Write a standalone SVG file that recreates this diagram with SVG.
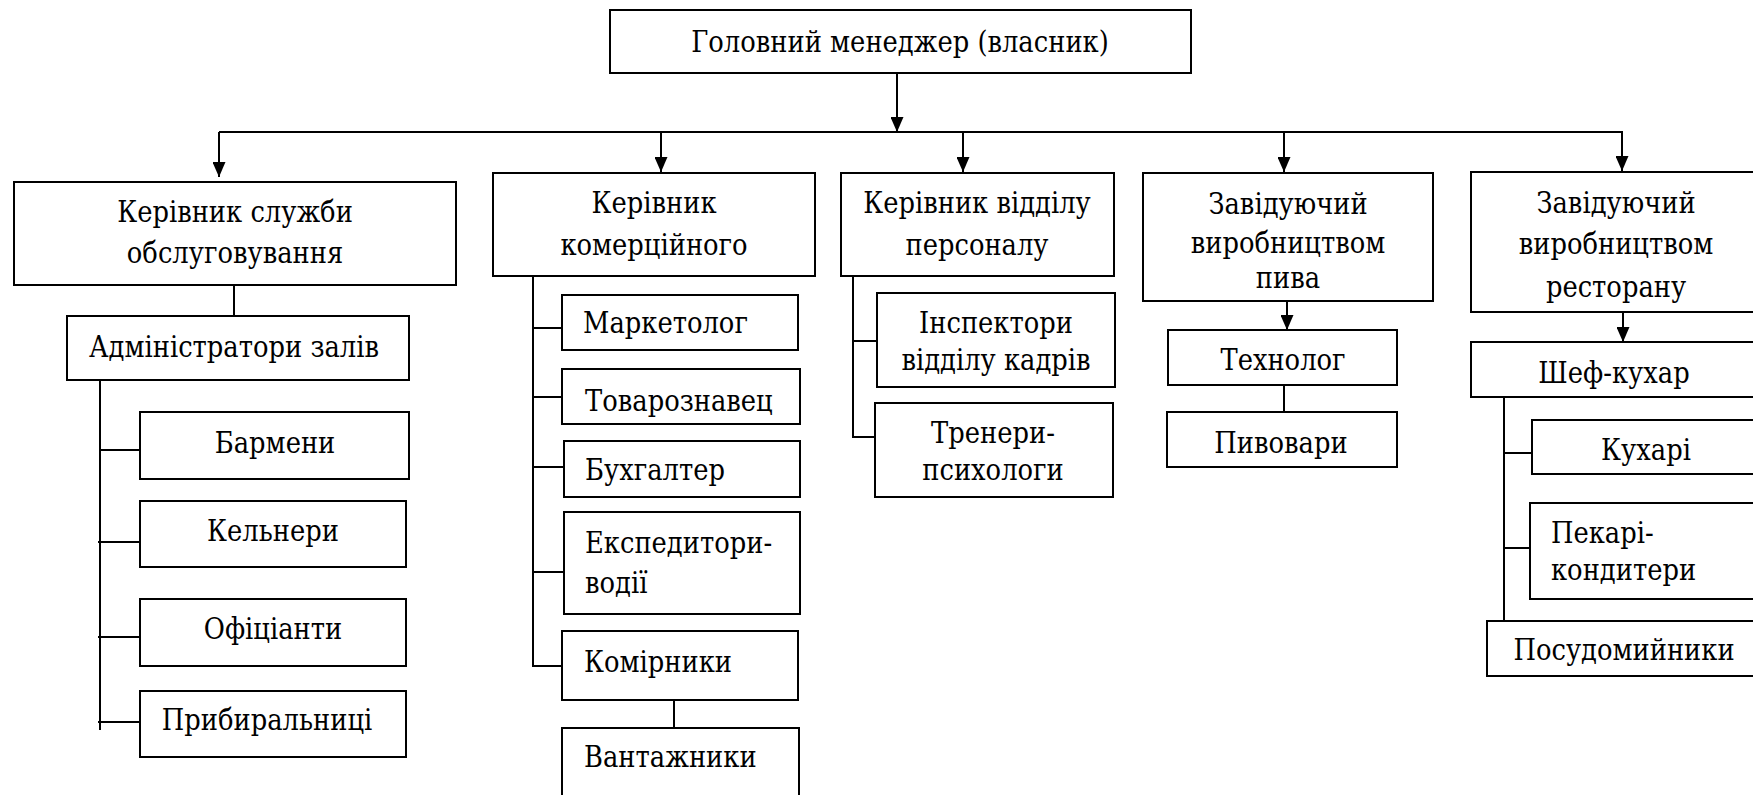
<svg xmlns="http://www.w3.org/2000/svg" width="1753" height="795" viewBox="0 0 1753 795">
<style>
  .box { fill: #ffffff; stroke: #000000; stroke-width: 2; }
  .ln { fill: none; stroke: #000000; stroke-width: 2; }
  .arr { fill: none; stroke: #000000; stroke-width: 2; marker-end: url(#ah); }
  text { font-family: "DejaVu Serif", "Liberation Serif", serif; font-size: 30px; fill: #000000; }
  .c { text-anchor: middle; }
  .l { text-anchor: start; }
</style>
<defs>
  <marker id="ah" markerUnits="userSpaceOnUse" markerWidth="15" markerHeight="13" refX="15" refY="6.5" orient="auto">
    <path d="M0,0 L15,6.5 L0,13 Z" fill="#000000"/>
  </marker>
</defs>
<rect width="1753" height="795" fill="#ffffff"/>

<g id="connectors">
  <line class="arr" x1="897" y1="73" x2="897" y2="132"/>
  <line class="ln" x1="219" y1="132" x2="1623" y2="132"/>
  <line class="arr" x1="219" y1="132" x2="219" y2="177"/>
  <line class="arr" x1="661" y1="132" x2="661" y2="172"/>
  <line class="arr" x1="963" y1="132" x2="963" y2="172"/>
  <line class="arr" x1="1284" y1="132" x2="1284" y2="172"/>
  <line class="arr" x1="1622" y1="132" x2="1622" y2="171"/>
  <line class="ln" x1="234" y1="285" x2="234" y2="316"/>
  <line class="ln" x1="100" y1="380" x2="100" y2="730"/>
  <line class="ln" x1="100" y1="450" x2="140" y2="450"/>
  <line class="ln" x1="98" y1="542" x2="140" y2="542"/>
  <line class="ln" x1="98" y1="637" x2="140" y2="637"/>
  <line class="ln" x1="98" y1="722" x2="140" y2="722"/>
  <line class="ln" x1="533" y1="276" x2="533" y2="667"/>
  <line class="ln" x1="533" y1="328" x2="562" y2="328"/>
  <line class="ln" x1="533" y1="397" x2="562" y2="397"/>
  <line class="ln" x1="533" y1="467" x2="564" y2="467"/>
  <line class="ln" x1="533" y1="572" x2="564" y2="572"/>
  <line class="ln" x1="533" y1="666" x2="562" y2="666"/>
  <line class="ln" x1="674" y1="700" x2="674" y2="728"/>
  <line class="ln" x1="853" y1="276" x2="853" y2="438"/>
  <line class="ln" x1="853" y1="341" x2="877" y2="341"/>
  <line class="ln" x1="853" y1="437" x2="875" y2="437"/>
  <line class="arr" x1="1287" y1="301" x2="1287" y2="330"/>
  <line class="ln" x1="1284" y1="385" x2="1284" y2="412"/>
  <line class="arr" x1="1623" y1="312" x2="1623" y2="342"/>
  <line class="ln" x1="1504" y1="397" x2="1504" y2="621"/>
  <line class="ln" x1="1504" y1="453" x2="1532" y2="453"/>
  <line class="ln" x1="1504" y1="548" x2="1530" y2="548"/>
</g>

<g id="n-top">
  <rect class="box" x="610" y="10" width="581" height="63"/>
  <text class="c" transform="translate(900 52) scale(0.86 1)">Головний менеджер (власник)</text>
</g>
<g id="n-service">
  <rect class="box" x="14" y="182" width="442" height="103"/>
  <text class="c" transform="translate(235 222) scale(0.86 1)">Керівник служби</text>
  <text class="c" transform="translate(235 263) scale(0.86 1)">обслуговування</text>
</g>
<g id="n-admin">
  <rect class="box" x="67" y="316" width="342" height="64"/>
  <text class="c" transform="translate(234 357) scale(0.86 1)">Адміністратори залів</text>
</g>
<g id="n-barmen">
  <rect class="box" x="140" y="412" width="269" height="67"/>
  <text class="c" transform="translate(275 453) scale(0.86 1)">Бармени</text>
</g>
<g id="n-kelnery">
  <rect class="box" x="140" y="501" width="266" height="66"/>
  <text class="c" transform="translate(273 541) scale(0.86 1)">Кельнери</text>
</g>
<g id="n-ofitsianty">
  <rect class="box" x="140" y="599" width="266" height="67"/>
  <text class="c" transform="translate(273 639) scale(0.86 1)">Офіціанти</text>
</g>
<g id="n-prybyralnytsi">
  <rect class="box" x="140" y="691" width="266" height="66"/>
  <text class="c" transform="translate(267 730) scale(0.86 1)">Прибиральниці</text>
</g>
<g id="n-commercial">
  <rect class="box" x="493" y="173" width="322" height="103"/>
  <text class="c" transform="translate(654 213) scale(0.86 1)">Керівник</text>
  <text class="c" transform="translate(654 255) scale(0.86 1)">комерційного</text>
</g>
<g id="n-marketolog">
  <rect class="box" x="562" y="295" width="236" height="55"/>
  <text class="l" transform="translate(583 333) scale(0.86 1)">Маркетолог</text>
</g>
<g id="n-tovaroznavets">
  <rect class="box" x="562" y="369" width="238" height="55"/>
  <text class="l" transform="translate(585 411) scale(0.86 1)">Товарознавец</text>
</g>
<g id="n-bukhhalter">
  <rect class="box" x="564" y="441" width="236" height="56"/>
  <text class="l" transform="translate(585 480) scale(0.86 1)">Бухгалтер</text>
</g>
<g id="n-ekspedytory">
  <rect class="box" x="564" y="512" width="236" height="102"/>
  <text class="l" transform="translate(585 553) scale(0.86 1)">Експедитори-</text>
  <text class="l" transform="translate(585 593) scale(0.86 1)">водії</text>
</g>
<g id="n-komirnyky">
  <rect class="box" x="562" y="631" width="236" height="69"/>
  <text class="l" transform="translate(584 672) scale(0.86 1)">Комірники</text>
</g>
<g id="n-vantazhnyky">
  <rect class="box" x="562" y="728" width="237" height="80"/>
  <text class="l" transform="translate(584 767) scale(0.86 1)">Вантажники</text>
</g>
<g id="n-personnel">
  <rect class="box" x="841" y="173" width="273" height="103"/>
  <text class="c" transform="translate(977 213) scale(0.86 1)">Керівник відділу</text>
  <text class="c" transform="translate(977 255) scale(0.86 1)">персоналу</text>
</g>
<g id="n-inspektory">
  <rect class="box" x="877" y="293" width="238" height="94"/>
  <text class="c" transform="translate(996 333) scale(0.86 1)">Інспектори</text>
  <text class="c" transform="translate(996 370) scale(0.86 1)">відділу кадрів</text>
</g>
<g id="n-trenery">
  <rect class="box" x="875" y="403" width="238" height="94"/>
  <text class="c" transform="translate(993 443) scale(0.86 1)">Тренери-</text>
  <text class="c" transform="translate(993 480) scale(0.86 1)">психологи</text>
</g>
<g id="n-beer">
  <rect class="box" x="1143" y="173" width="290" height="128"/>
  <text class="c" transform="translate(1288 214) scale(0.86 1)">Завідуючий</text>
  <text class="c" transform="translate(1288 253) scale(0.86 1)">виробництвом</text>
  <text class="c" transform="translate(1288 288) scale(0.86 1)">пива</text>
</g>
<g id="n-tekhnolog">
  <rect class="box" x="1168" y="330" width="229" height="55"/>
  <text class="c" transform="translate(1283 370) scale(0.86 1)">Технолог</text>
</g>
<g id="n-pyvovary">
  <rect class="box" x="1167" y="412" width="230" height="55"/>
  <text class="c" transform="translate(1281 453) scale(0.86 1)">Пивовари</text>
</g>
<g id="n-restaurant">
  <rect class="box" x="1471" y="172" width="290" height="140"/>
  <text class="c" transform="translate(1616 213) scale(0.86 1)">Завідуючий</text>
  <text class="c" transform="translate(1616 254) scale(0.86 1)">виробництвом</text>
  <text class="c" transform="translate(1616 297) scale(0.86 1)">ресторану</text>
</g>
<g id="n-shef">
  <rect class="box" x="1471" y="342" width="290" height="55"/>
  <text class="c" transform="translate(1614 383) scale(0.86 1)">Шеф-кухар</text>
</g>
<g id="n-kukhari">
  <rect class="box" x="1532" y="420" width="229" height="54"/>
  <text class="c" transform="translate(1646 460) scale(0.86 1)">Кухарі</text>
</g>
<g id="n-pekari">
  <rect class="box" x="1530" y="503" width="231" height="96"/>
  <text class="l" transform="translate(1551 543) scale(0.86 1)">Пекарі-</text>
  <text class="l" transform="translate(1551 580) scale(0.86 1)">кондитери</text>
</g>
<g id="n-posudomyinyky">
  <rect class="box" x="1487" y="621" width="274" height="55"/>
  <text class="c" transform="translate(1624 660) scale(0.86 1)">Посудомийники</text>
</g>
</svg>
